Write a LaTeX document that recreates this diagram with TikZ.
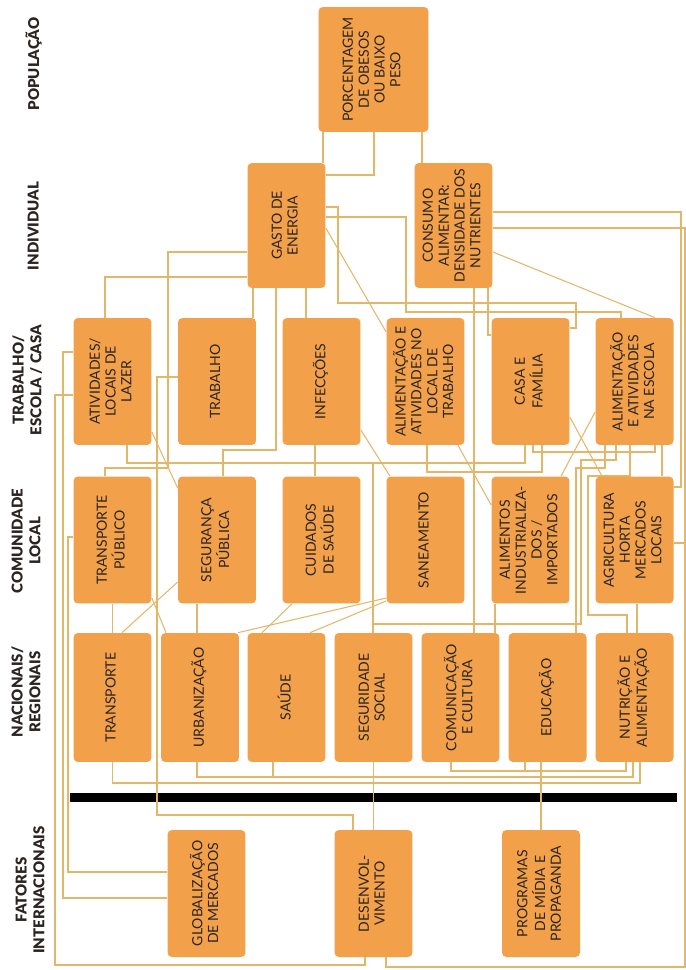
\documentclass[tikz,border=0pt]{standalone}
\usepackage{fontspec}
\setmainfont{Lato}[BoldFont={Lato Black}]
\usetikzlibrary{backgrounds}
\definecolor{boxorange}{HTML}{F2A04A}
\definecolor{linetan}{HTML}{E3B76A}
\definecolor{txtdark}{HTML}{2A2522}
\newcommand{\vlabel}[1]{\rotatebox{90}{\begin{tabular}{@{}c@{}}#1\end{tabular}}}

\begin{document}
\begin{tikzpicture}[x=0.02cm,y=-0.02cm,
  box/.style={fill=boxorange,rounded corners=2.5pt,minimum width=1.56cm,minimum height=2.54cm,inner sep=0pt,text=txtdark,font=\fontsize{8}{9}\selectfont},
  link/.style={draw=linetan,line width=0.6pt},
  rowlabel/.style={text=txtdark,font=\bfseries\fontsize{8.5}{10}\selectfont}]
\useasboundingbox (0,0) rectangle (686,970);

% levels
\node[rowlabel] (lpop) at (35,64) {\vlabel{POPULAÇÃO}};
\node[rowlabel] (lind) at (35,226) {\vlabel{INDIVIDUAL}};
\node[rowlabel] (ltrab) at (29,380) {\vlabel{TRABALHO/\\ESCOLA / CASA}};
\node[rowlabel] (lcom) at (28,541) {\vlabel{COMUNIDADE\\LOCAL}};
\node[rowlabel] (lnac) at (28,692) {\vlabel{NACIONAIS/\\REGIONAIS}};
\node[rowlabel] (lfat) at (32,890) {\vlabel{FATORES\\INTERNACIONAIS}};

% population and individual
\node[box,minimum width=2.2cm,minimum height=2.5cm] (porc) at (373.5,69.5) {\vlabel{PORCENTAGEM\\DE OBESOS\\OU BAIXO\\PESO}};
\node[box,minimum height=2.5cm] (gasto) at (286.5,225.5) {\vlabel{GASTO DE\\ENERGIA}};
\node[box,minimum height=2.5cm] (consumo) at (453.5,225.5) {\vlabel{CONSUMO\\ALIMENTAR:\\DENSIDADE DOS\\NUTRIENTES}};

% work / school / home
\node[box] (ativ) at (112.5,381.5) {\vlabel{ATIVIDADES/\\LOCAIS DE\\LAZER}};
\node[box] (trab) at (217,381.5) {\vlabel{TRABALHO}};
\node[box] (infec) at (321.5,381.5) {\vlabel{INFECÇÕES}};
\node[box] (alimtrab) at (425.5,381.5) {\vlabel{ALIMENTAÇÃO E\\ATIVIDADES NO\\LOCAL DE\\TRABALHO}};
\node[box] (casa) at (530.5,381.5) {\vlabel{CASA E\\FAMÍLIA}};
\node[box] (escola) at (634.5,381.5) {\vlabel{ALIMENTAÇÃO\\E ATIVIDADES\\NA ESCOLA}};

% local community
\node[box] (tpub) at (112.5,540) {\vlabel{TRANSPORTE\\PÚBLICO}};
\node[box] (seg) at (217,540) {\vlabel{SEGURANÇA\\PÚBLICA}};
\node[box] (cuid) at (321.5,540) {\vlabel{CUIDADOS\\DE SAÚDE}};
\node[box] (san) at (425.5,540) {\vlabel{SANEAMENTO}};
\node[box] (alimind) at (530.5,540) {\vlabel{ALIMENTOS\\INDUSTRIALIZA-\\DOS /\\IMPORTADOS}};
\node[box] (agri) at (634.5,540) {\vlabel{AGRICULTURA\\HORTA\\MERCADOS\\LOCAIS}};

% national / regional
\node[box,minimum height=2.58cm] (transp) at (112.5,697.5) {\vlabel{TRANSPORTE}};
\node[box,minimum height=2.58cm] (urb) at (200,697.5) {\vlabel{URBANIZAÇÃO}};
\node[box,minimum height=2.58cm] (saude) at (286.5,697.5) {\vlabel{SAÚDE}};
\node[box,minimum height=2.58cm] (segsoc) at (373.5,697.5) {\vlabel{SEGURIDADE\\SOCIAL}};
\node[box,minimum height=2.58cm] (comun) at (460.5,697.5) {\vlabel{COMUNICAÇÃO\\E CULTURA}};
\node[box,minimum height=2.58cm] (educ) at (547.5,697.5) {\vlabel{EDUCAÇÃO}};
\node[box,minimum height=2.58cm] (nutri) at (634.5,697.5) {\vlabel{NUTRIÇÃO E\\ALIMENTAÇÃO}};

% international
\node[box] (glob) at (206.5,893.5) {\vlabel{GLOBALIZAÇÃO\\DE MERCADOS}};
\node[box] (desenv) at (373.5,893.5) {\vlabel{DESENVOL-\\VIMENTO}};
\node[box] (prog) at (541,893.5) {\vlabel{PROGRAMAS\\DE MÍDIA E\\PROPAGANDA}};

\begin{pgfonlayer}{background}
\fill[black] (70,793) rectangle (677,802);
% top
\draw[link] (porc.south -| 323,0) -- (gasto.north -| 323,0);
\draw[link] (porc.south -| 374,0) |- (gasto.east |- 0,175);
\draw[link] (porc.south -| 422,0) -- (consumo.north -| 422,0);
\draw[link] (gasto.east |- 0,207) -| (338,303) -| (576,328) -- (casa.east |- 0,328);
\draw[link] (gasto.east |- 0,217) -| (406,312) -| (escola.north -| 621,0);
\draw[link] (gasto.east |- 0,228) -- (alimtrab.west |- 0,332);
\draw[link] (consumo.east |- 0,212) -| (681,487) -- (agri.east |- 0,487);
\draw[link] (consumo.east |- 0,228) -| (685,967) -| (desenv.south -| 386,0);
\draw[link] (agri.east |- 0,543) -- (685,543);
\draw[link] (consumo.east |- 0,252) -- (escola.north -| 655,0);
\draw[link] (consumo.south -| 474,0) -- (comun.north -| 474,0);
\draw[link] (consumo.south -| 488,0) |- (casa.west |- 0,335);
\draw[link] (gasto.west |- 0,277) -| (ativ.north -| 105,0);
\draw[link] (gasto.west |- 0,252) -| (168,468) -| (tpub.north -| 105,0);
\draw[link] (gasto.south -| 253,0) -- (trab.north -| 253,0);
\draw[link] (gasto.south -| 276,0) |- (223,450) -- (seg.north -| 223,0);
\draw[link] (gasto.south -| 306,0) -- (infec.north -| 306,0);
% left side
\draw[link] (ativ.west |- 0,352) -| (63,898) -- (glob.west |- 0,898);
\draw[link] (tpub.west |- 0,537) -| (68,872) -- (glob.west |- 0,872);
\draw[link] (ativ.west |- 0,395) -| (55,965) -| (desenv.south -| 365,0);
\draw[link] (trab.west |- 0,377) -| (157,815) -| (desenv.north -| 353,0);
% work row to community row
\draw[link] (ativ.south -| 127,0) |- (525,463) -- (casa.south -| 525,0);
\draw[link] (ativ.east |- 0,432) -- (seg.west |- 0,488);
\draw[link] (infec.south -| 315,0) -- (cuid.north -| 315,0);
\draw[link] (infec.east |- 0,430) -- (san.north -| 390,0);
\draw[link] (alimtrab.south -| 427,0) |- (542,472) -- (casa.south -| 542,0);
\draw[link] (alimtrab.south -| 458,0) -- (alimind.west |- 0,505);
\draw[link] (casa.south -| 533,0) |- (655,452) -- (escola.south -| 655,0);
\draw[link] (casa.east |- 0,417) -- (agri.north -| 602,0);
\draw[link] (escola.west |- 0,412) -- (alimind.north -| 561,0);
\draw[link] (escola.south -| 662,0) -- (agri.north -| 662,0);
\draw[link] (escola.south -| 605,0) |- (576,468) -- (educ.north -| 576,0);
\draw[link] (escola.south -| 630,0) |- (588,476) |- (627,615) -- (nutri.north -| 627,0);
\draw[link] (segsoc.north -| 373,0) -- (373,463);
\draw[link] (segsoc.north -| 373,0) |- (581,624) -- (581,460) -| (escola.south -| 616,0);
% community row to national row
\draw[link] (agri.south -| 637,0) -- (nutri.north -| 637,0);
\draw[link] (san.west |- 0,598) -- (urb.north -| 238,0);
\draw[link] (san.west |- 0,601) -- (saude.north -| 310,0);
\draw[link] (cuid.south -| 292,0) -- (saude.north -| 262,0);
\draw[link] (tpub.south) -- (transp.north);
\draw[link] (seg.west |- 0,582) -- (transp.north -| 122,0);
\draw[link] (tpub.east |- 0,598) -- (urb.north -| 166,0);
\draw[link] (seg.south -| 197,0) -- (urb.north -| 197,0);
\draw[link] (alimind.south -| 495,0) -- (comun.north -| 495,0);
% national row
\draw[link] (transp.south) |- (640,783) -- (nutri.south -| 640,0);
\draw[link] (urb.south -| 197,0) |- (633,777) -- (nutri.south -| 633,0);
\draw[link] (saude.south -| 273,0) |- (633,777) -- (nutri.south -| 633,0);
\draw[link] (comun.south -| 451,0) |- (626,771) -- (nutri.south -| 626,0);
\draw[link] (educ.south -| 525,0) |- (626,771) -- (nutri.south -| 626,0);
\draw[link] (segsoc.south) -- (desenv.north);
\draw[link] (educ.south -| 541,0) -- (prog.north -| 541,0);
\end{pgfonlayer}
\end{tikzpicture}
\end{document}
